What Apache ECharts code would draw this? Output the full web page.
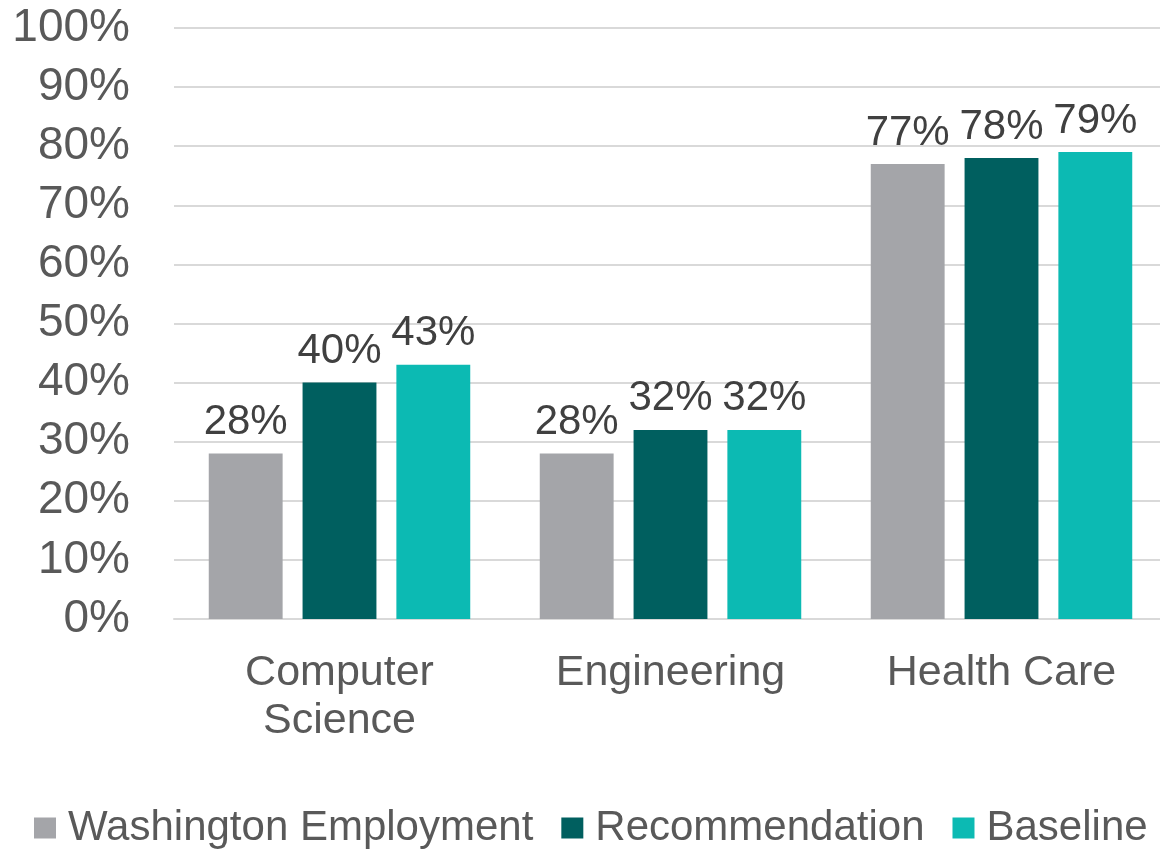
<!DOCTYPE html>
<html>
<head>
<meta charset="utf-8">
<script src="https://cdn.jsdelivr.net/npm/echarts@6/dist/echarts.min.js"></script>
<style>
  html, body { margin: 0; padding: 0; background: #fff; overflow: hidden; }
  /* a bit wider than the window: the plot runs past the right edge in the original */
  #chart { width: 1167px; height: 850px; }
</style>
</head>
<body>
<div id="chart"></div>
<script>
var categories = ['Computer\nScience', 'Engineering', 'Health Care'];
var seriesNames = ['Washington Employment', 'Recommendation', 'Baseline'];
var washington = [0.28, 0.28, 0.77];
var recommendation = [0.40, 0.32, 0.78];
var baseline = [0.43, 0.32, 0.79];
var colors = ['#a4a5a9', '#005f5f', '#0cbab3'];

var chart = echarts.init(document.getElementById('chart'));

function pct(v) {
    return Math.round(v * 100) + '%';
}

function makeSeries(name, data, color) {
    return {
        name: name,
        type: 'bar',
        data: data,
        barGap: '27%',
        barCategoryGap: '21%',
        itemStyle: { color: color },
        label: {
            show: true,
            position: 'top',
            distance: 10,
            fontFamily: 'Liberation Sans, Arial, sans-serif',
            fontSize: 42,
            color: '#404040',
            formatter: function (p) { return pct(p.value); }
        }
    };
}

var option = {
    animation: false,
    color: colors,
    grid: { left: 174, right: 0, top: 28, bottom: 231 },
    legend: {
        top: 802,
        left: 29,
        icon: 'rect',
        itemWidth: 22,
        itemHeight: 21,
        itemGap: 28,
        textStyle: {
            fontFamily: 'Liberation Sans, Arial, sans-serif',
            fontSize: 42,
            color: '#595959',
            padding: [0, 0, 10, 7]
        },
        data: seriesNames
    },
    xAxis: {
        type: 'category',
        data: categories,
        axisTick: { show: false },
        axisLine: { lineStyle: { color: '#d9d9d9', width: 2 } },
        axisLabel: {
            margin: 30,
            fontFamily: 'Liberation Sans, Arial, sans-serif',
            fontSize: 43,
            lineHeight: 48,
            color: '#595959'
        }
    },
    yAxis: {
        type: 'value',
        min: 0,
        max: 1,
        interval: 0.1,
        axisLine: { show: false },
        axisTick: { show: false },
        splitLine: { lineStyle: { color: '#d9d9d9', width: 2 } },
        axisLabel: {
            margin: 44,
            fontFamily: 'Liberation Sans, Arial, sans-serif',
            fontSize: 46,
            color: '#595959',
            formatter: function (v) { return pct(v); }
        }
    },
    series: [
        makeSeries(seriesNames[0], washington, colors[0]),
        makeSeries(seriesNames[1], recommendation, colors[1]),
        makeSeries(seriesNames[2], baseline, colors[2])
    ]
};

chart.setOption(option);
</script>
</body>
</html>
